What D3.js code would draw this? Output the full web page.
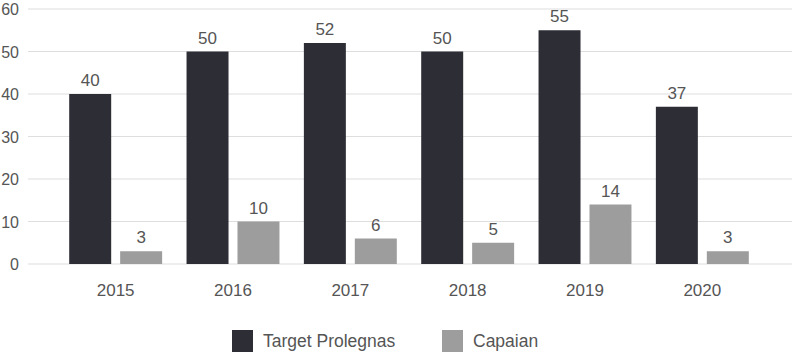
<!DOCTYPE html>
<html>
<head>
<meta charset="utf-8">
<script src="https://cdn.jsdelivr.net/npm/d3@7"></script>
<style>
  body { margin: 0; background: #fff; }
  text { font-family: "Liberation Sans", Arial, sans-serif; }
</style>
</head>
<body>
<svg id="chart"></svg>
<script>
(function () {
  var width = 795; var height = 364

  var years = ['2015', '2016', '2017', '2018', '2019', '2020']
  var target = [40, 50, 52, 50, 55, 37]
  var capaian = [3, 10, 6, 5, 14, 3]
  var seriesNames = ['Target Prolegnas', 'Capaian']
  var colors = ['#2d2e35', '#9d9d9d']
  var yTicks = [0, 10, 20, 30, 40, 50, 60]

  var svg = d3.select('#chart')
    .attr('width', width)
    .attr('height', height)

  const yScale = d3.scaleLinear()
    .domain([0, 60])
    .range([264, 9])

  const xScale = d3.scaleBand()
    .domain(years)
    .range([57, 761])
    .paddingInner(0.208)
    .paddingOuter(0.104)

  const innerScale = d3.scaleBand()
    .domain(seriesNames)
    .range([0, xScale.bandwidth()])
    .paddingInner(0.176)

  // gridlines and y labels
  svg.selectAll('.grid')
    .data(yTicks)
    .enter().append('line')
    .attr('x1', 28)
    .attr('x2', 792)
    .attr('y1', d => yScale(d))
    .attr('y2', d => yScale(d))
    .attr('stroke', '#dedede')
    .attr('stroke-width', 1.2)

  svg.selectAll('.ylab')
    .data(yTicks)
    .enter().append('text')
    .attr('x', 19)
    .attr('y', d => yScale(d) + 6)
    .attr('text-anchor', 'end')
    .attr('font-size', 16)
    .attr('fill', '#555')
    .text(d => d)

  var rows = years.map((y, i) => ({ year: y, values: [target[i], capaian[i]] }))

  var groups = svg.selectAll('.group')
    .data(rows)
    .enter().append('g')
    .attr('transform', d => 'translate(' + xScale(d.year) + ',0)')

  groups.selectAll('rect')
    .data(d => d.values.map((v, j) => ({ name: seriesNames[j], value: v, idx: j })))
    .enter().append('rect')
    .attr('x', d => innerScale(d.name))
    .attr('width', innerScale.bandwidth())
    .attr('y', d => yScale(d.value))
    .attr('height', d => yScale(0) - yScale(d.value))
    .attr('fill', d => colors[d.idx])

  groups.selectAll('.val')
    .data(d => d.values.map((v, j) => ({ name: seriesNames[j], value: v })))
    .enter().append('text')
    .attr('x', d => innerScale(d.name) + innerScale.bandwidth() / 2)
    .attr('y', d => yScale(d.value) - 8)
    .attr('text-anchor', 'middle')
    .attr('font-size', 17)
    .attr('fill', '#555')
    .text(d => d.value)

  // x labels
  svg.selectAll('.xlab')
    .data(years)
    .enter().append('text')
    .attr('x', d => xScale(d) + xScale.bandwidth() / 2)
    .attr('y', 296)
    .attr('text-anchor', 'middle')
    .attr('font-size', 17)
    .attr('fill', '#555')
    .text(d => d)

  // legend
  var legendX = [232, 442]
  var legend = svg.selectAll('.legend')
    .data(seriesNames)
    .enter().append('g')
    .attr('transform', (d, i) => 'translate(' + legendX[i] + ',330)')

  legend.append('rect')
    .attr('width', 21)
    .attr('height', 22)
    .attr('fill', (d, i) => colors[i])

  legend.append('text')
    .attr('x', 31)
    .attr('y', 17)
    .attr('font-size', 17.5)
    .attr('fill', '#555')
    .text(d => d)
})()
</script>
</body>
</html>
